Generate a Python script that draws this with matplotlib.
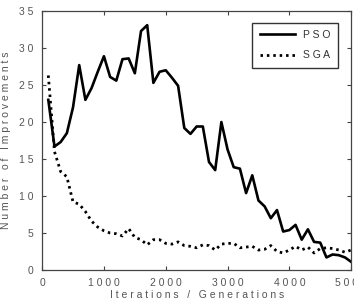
import matplotlib
matplotlib.use("Agg")
import matplotlib.pyplot as plt

# Data (every 100 iterations)
iterations = list(range(100, 5001, 100))
pso = [23.0, 16.7, 17.3, 18.5, 22.0, 27.7, 23.0, 24.6, 26.8, 28.9,
       26.1, 25.6, 28.5, 28.6, 26.6, 32.3, 33.1, 25.3, 26.8, 27.0,
       26.0, 24.9, 19.2, 18.4, 19.4, 19.4, 14.6, 13.5, 20.0, 16.3,
       13.9, 13.7, 10.4, 12.8, 9.4, 8.6, 7.0, 8.1, 5.2, 5.4,
       6.1, 4.1, 5.5, 3.8, 3.7, 1.7, 2.1, 2.0, 1.7, 1.1]
sga = [26.3, 16.0, 13.3, 12.6, 9.2, 8.9, 7.9, 6.6, 5.8, 5.3,
       5.0, 4.9, 4.6, 5.6, 4.4, 4.1, 3.4, 4.1, 4.1, 3.6,
       3.5, 3.8, 3.3, 3.2, 3.0, 3.4, 3.3, 2.7, 3.5, 3.6,
       3.6, 3.0, 3.1, 3.2, 2.7, 2.8, 3.3, 2.5, 2.3, 2.7,
       3.2, 2.7, 3.1, 2.3, 2.9, 3.0, 2.9, 2.7, 2.4, 2.7]

x_ticks = [0, 1000, 2000, 3000, 4000, 5000]
y_ticks = [0, 5, 10, 15, 20, 25, 30, 35]


def spaced(s):
    return " ".join(s)


plt.rcParams['font.family'] = ['Liberation Sans Narrow', 'Liberation Sans', 'DejaVu Sans']
txt_color = '#555555'

fig = plt.figure(figsize=(3.54, 3.0), dpi=100)
ax = fig.add_axes([0.119, 0.10, 0.873, 0.863])

ax.plot(iterations, pso, color='black', linewidth=1.9, label=spaced('PSO'))
ax.plot(iterations, sga, color='black', linewidth=2.0, linestyle=(0, (0.9, 1.4)),
        label=spaced('SGA'))

ax.set_xlim(0, 5000)
ax.set_ylim(0, 35)
ax.set_xticks(x_ticks)
ax.set_xticklabels([spaced(str(t)) for t in x_ticks])
ax.set_yticks(y_ticks)
ax.set_yticklabels([spaced(str(t)) for t in y_ticks])
ax.tick_params(direction='in', length=3, width=0.8, colors='#444444',
               labelcolor=txt_color, labelsize=7.5, top=True, right=True, pad=6)
for sp in ax.spines.values():
    sp.set_color('#444444')
    sp.set_linewidth(0.9)

ax.set_xlabel(spaced('Iterations / Generations'), color=txt_color, fontsize=7.5, labelpad=1)
ax.set_ylabel(spaced('Number of Improvements'), color=txt_color, fontsize=7.5, labelpad=6)

leg = ax.legend(loc='upper right', fontsize=7.5, fancybox=False, framealpha=1,
                edgecolor='#333333', handlelength=3.4, borderpad=0.7,
                labelspacing=1.0, bbox_to_anchor=(0.975, 0.975))
for t in leg.get_texts():
    t.set_color('#333333')

fig.savefig('out.png', dpi=100)
